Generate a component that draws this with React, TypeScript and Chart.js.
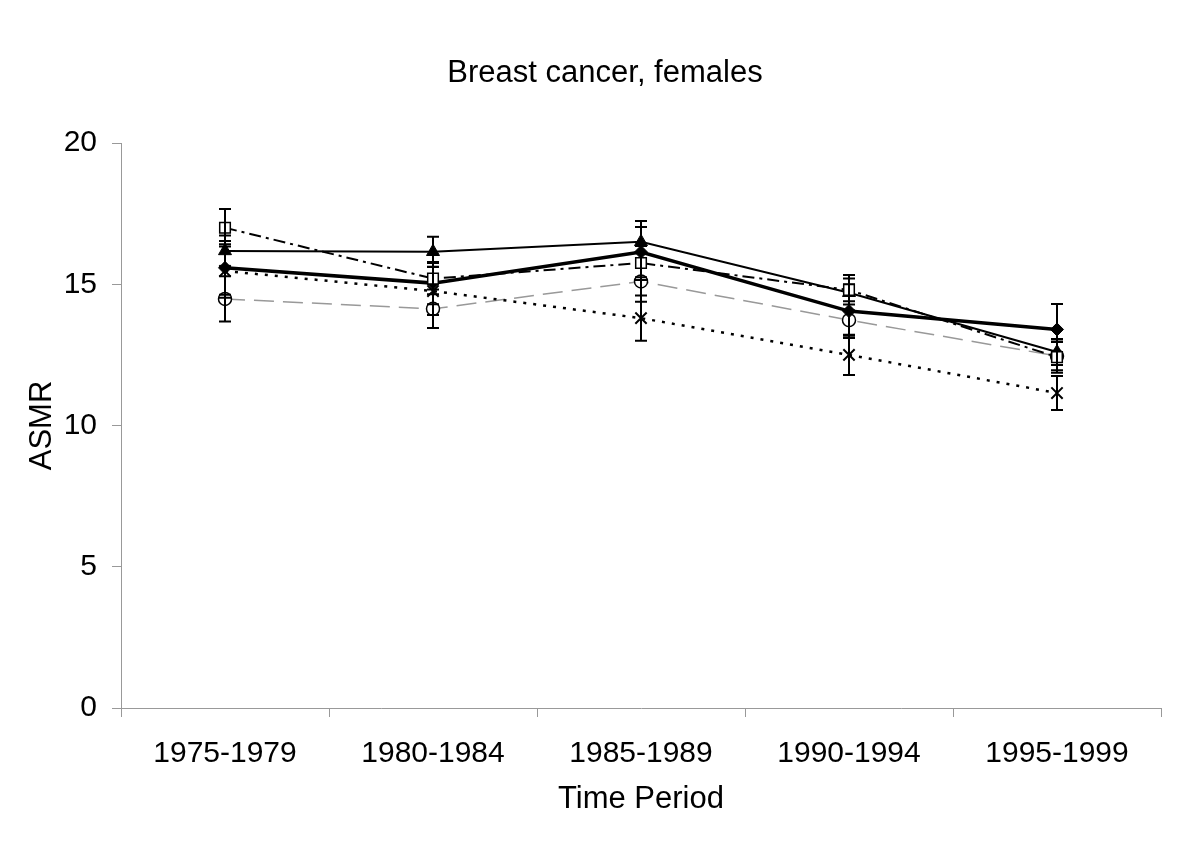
import React, { useEffect, useRef } from "react";
import { Chart, registerables } from "chart.js";

Chart.register(...registerables);

const categories = ["1975-1979", "1980-1984", "1985-1989", "1990-1994", "1995-1999"];

const squareValues = [17.0, 15.2, 15.75, 14.8, 12.42];
const squareErrors = [0.66, 0.55, 0.6, 0.4, 0.55];

const triangleValues = [16.18, 16.15, 16.5, 14.7, 12.6];
const triangleErrors = [0.55, 0.53, 0.74, 0.63, 0.46];

const diamondValues = [15.58, 15.04, 16.14, 14.05, 13.4];
const diamondErrors = [0.95, 0.75, 0.89, 0.95, 0.9];

const crossValues = [15.47, 14.76, 13.8, 12.5, 11.15];
const crossErrors = [0.95, 0.85, 0.8, 0.71, 0.6];

const circleValues = [14.48, 14.13, 15.1, 13.73, 12.46];
const circleErrors = [0.8, 0.68, 0.72, 0.55, 0.5];

const yTicks = [0, 5, 10, 15, 20];

const FONT = "'Liberation Sans', Arial, Helvetica, sans-serif";

const errorBarPlugin = {
  id: "errorBars",
  afterDatasetDraw(chart: any, args: any) {
    const ds = chart.data.datasets[args.index] as any;
    const errs: number[] | undefined = ds.errors;
    if (!errs) return;
    const meta = args.meta;
    const yScale = chart.scales.y;
    const ctx = chart.ctx;
    ctx.save();
    ctx.strokeStyle = "#000";
    ctx.lineWidth = 2;
    ctx.setLineDash([]);
    meta.data.forEach((pt: any, i: number) => {
      const v = ds.data[i];
      const e = errs[i];
      const x = pt.x;
      const yTop = yScale.getPixelForValue(v + e);
      const yBot = yScale.getPixelForValue(v - e);
      ctx.beginPath();
      ctx.moveTo(x, yTop);
      ctx.lineTo(x, yBot);
      ctx.moveTo(x - 6, yTop);
      ctx.lineTo(x + 6, yTop);
      ctx.moveTo(x - 6, yBot);
      ctx.lineTo(x + 6, yBot);
      ctx.stroke();
    });
    ctx.restore();
  },
};

export default function App() {
  const ref = useRef<HTMLCanvasElement | null>(null);
  useEffect(() => {
    document.body.style.margin = "0";
    if (!ref.current) return;
    const chart = new Chart(ref.current, {
      type: "line",
      data: {
        labels: categories,
        datasets: [
          {
            label: "Squares",
            data: squareValues,
            errors: squareErrors,
            borderColor: "#000",
            borderWidth: 2,
            borderDash: [12, 5, 3, 5],
            pointStyle: "rect",
            pointRadius: 7.5,
            pointBackgroundColor: "#fff",
            pointBorderColor: "#000",
            pointBorderWidth: 1.5,
            tension: 0,
          } as any,
          {
            label: "Triangles",
            data: triangleValues,
            errors: triangleErrors,
            borderColor: "#000",
            borderWidth: 2,
            pointStyle: "triangle",
            pointRadius: 7.5,
            pointBackgroundColor: "#000",
            pointBorderColor: "#000",
            pointBorderWidth: 1,
            tension: 0,
          } as any,
          {
            label: "Diamonds",
            data: diamondValues,
            errors: diamondErrors,
            borderColor: "#000",
            borderWidth: 3.5,
            pointStyle: "rectRot",
            pointRadius: 6.5,
            pointBackgroundColor: "#000",
            pointBorderColor: "#000",
            pointBorderWidth: 1,
            tension: 0,
          } as any,
          {
            label: "Crosses",
            data: crossValues,
            errors: crossErrors,
            borderColor: "#000",
            borderWidth: 2.5,
            borderDash: [3, 7],
            pointStyle: "crossRot",
            pointRadius: 8,
            pointBackgroundColor: "#000",
            pointBorderColor: "#000",
            pointBorderWidth: 2,
            tension: 0,
          } as any,
          {
            label: "Circles",
            data: circleValues,
            errors: circleErrors,
            borderColor: "#999",
            borderWidth: 1.5,
            borderDash: [20, 9],
            pointStyle: "circle",
            pointRadius: 6.5,
            pointBackgroundColor: "#fff",
            pointBorderColor: "#000",
            pointBorderWidth: 1.5,
            tension: 0,
          } as any,
        ],
      },
      options: {
        responsive: false,
        animation: false,
        layout: { padding: { left: 10, right: 0, top: 0, bottom: 0 } },
        plugins: {
          legend: { display: false },
          tooltip: { enabled: false },
          title: {
            display: true,
            text: "Breast cancer, females",
            color: "#000",
            font: { family: FONT, size: 31, weight: "normal" },
            padding: { top: 55, bottom: 50.8 },
          },
        },
        scales: {
          x: {
            type: "category",
            offset: true,
            grid: {
              offset: true,
              drawOnChartArea: false,
              drawTicks: true,
              tickLength: 9,
              color: "#999",
            },
            border: { color: "#999", width: 1 },
            ticks: {
              color: "#000",
              font: { family: FONT, size: 30 },
              padding: 19,
              maxRotation: 0,
              autoSkip: false,
            },
            title: {
              display: true,
              text: "Time Period",
              color: "#000",
              font: { family: FONT, size: 31 },
              padding: { top: 0, bottom: 26 },
            },
            afterFit(scale: any) {
              scale.height = 136;
            },
          },
          y: {
            min: 0,
            max: 20,
            afterBuildTicks(scale: any) {
              scale.ticks = yTicks.map((v) => ({ value: v }));
            },
            grid: {
              drawOnChartArea: false,
              drawTicks: true,
              tickLength: 9,
              color: "#999",
            },
            border: { color: "#999", width: 1 },
            ticks: {
              color: "#000",
              font: { family: FONT, size: 30 },
              padding: 15,
            },
            title: {
              display: true,
              text: "ASMR",
              color: "#000",
              font: { family: FONT, size: 31 },
              padding: { top: 13.5, bottom: 0 },
            },
            afterFit(scale: any) {
              scale.width = 111;
            },
          },
          yRightSpacer: {
            type: "linear",
            position: "right",
            min: 0,
            max: 20,
            grid: { display: false, drawTicks: false },
            border: { display: false },
            ticks: { display: false },
            afterFit(scale: any) {
              scale.width = 39;
            },
          },
        },
      } as any,
      plugins: [errorBarPlugin],
    });
    return () => chart.destroy();
  }, []);
  return (
    <div style={{ position: "absolute", left: 0, top: 0, width: 1200, height: 844, background: "#fff" }}>
      <canvas ref={ref} width={1200} height={844} />
    </div>
  );
}
